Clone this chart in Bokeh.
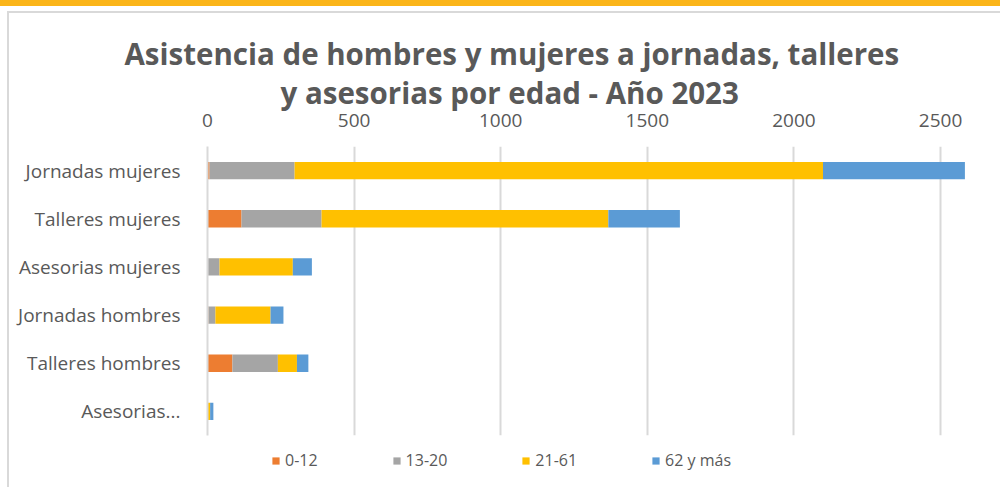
from bokeh.plotting import figure
from bokeh.layouts import column
from bokeh.models import (ColumnDataSource, Range1d, FixedTicker, Title, Legend, LegendItem)
from bokeh.embed import file_html
from bokeh.resources import INLINE

# ---- data ----
categories = ["Jornadas mujeres", "Talleres mujeres", "Asesorias mujeres",
              "Jornadas hombres", "Talleres hombres", "Asesorias..."]
age_0_12 = [7, 116, 2, 3, 85, 0]
age_13_20 = [290, 273, 39, 24, 155, 0]
age_21_61 = [1802, 978, 250, 188, 65, 9]
age_62_mas = [484, 244, 65, 44, 39, 11]
series_names = ["0-12", "13-20", "21-61", "62 y más"]
series_colors = ["#ED7D31", "#A5A5A5", "#FFC000", "#5B9BD5"]
x_ticks = [0, 500, 1000, 1500, 2000, 2500]
title_lines = ["Asistencia de hombres y mujeres a jornadas, talleres",
               "y asesorias por edad - Año 2023"]

n = len(categories)
ypos = [n - 1 - i for i in range(n)]
source = ColumnDataSource(dict(y=ypos, cat=categories, a=age_0_12, b=age_13_20,
                               c=age_21_61, d=age_62_mas))
stackers = ["a", "b", "c", "d"]

FONT = "Open Sans"
TXT = "#595959"
GRAY_LINE = "linear-gradient(#d9d9d9,#d9d9d9)"

p = figure(width=1000, height=445, output_backend="svg", toolbar_location=None,
           x_range=Range1d(0, 2585), y_range=Range1d(-0.5, n - 0.5),
           x_axis_location="above",
           min_border_left=207, min_border_right=35, min_border_top=146,
           min_border_bottom=10)
p.outline_line_color = None
p.background_fill_color = "white"
p.border_fill_color = None
p.styles = {"background": "linear-gradient(#FBB519,#FBB519) 0 0/100% 6px no-repeat, "
                          + GRAY_LINE + " 7px 11px/100% 2px no-repeat, "
                          + GRAY_LINE + " 7px 11px/2px 100% no-repeat, #ffffff"}

renderers = p.hbar_stack(stackers, y="y", height=0.36,
                         color=series_colors, line_color=None, source=source)

# x axis (top)
xa = p.xaxis[0]
xa.ticker = FixedTicker(ticks=x_ticks)
xa.axis_line_color = None
xa.major_tick_line_color = None
xa.minor_tick_line_color = None
xa.major_label_text_font = FONT
xa.major_label_text_font_size = "19px"
xa.major_label_text_color = TXT
xa.major_label_standoff = 14

# y axis (left)
ya = p.yaxis[0]
ya.ticker = FixedTicker(ticks=ypos)
ya.major_label_overrides = {y: c for y, c in zip(ypos, categories)}
ya.axis_line_color = "#d9d9d9"
ya.axis_line_width = 2
ya.major_tick_line_color = None
ya.minor_tick_line_color = None
ya.major_label_text_font = FONT
ya.major_label_text_font_size = "19px"
ya.major_label_text_color = TXT
ya.major_label_standoff = 21

p.xgrid.grid_line_color = "#d9d9d9"
p.xgrid.grid_line_width = 2
p.ygrid.grid_line_color = None

# title (two lines, added nearest-first)
for line, off in [(title_lines[1], 73), (title_lines[0], -83)]:
    p.add_layout(Title(text=line, align="left", offset=off, standoff=-4,
                       text_font=FONT, text_font_style="bold",
                       text_font_size="29.5px", text_color=TXT), "above")

# legend strip (separate small figure under the chart)
pl = figure(width=1000, height=42, output_backend="svg", toolbar_location=None,
            x_range=Range1d(0, 1), y_range=Range1d(10, 11),
            x_axis_location=None, y_axis_location=None,
            min_border_left=0, min_border_right=0, min_border_top=0, min_border_bottom=0)
pl.outline_line_color = None
pl.grid.visible = False
pl.background_fill_color = None
pl.border_fill_color = None
pl.styles = {"background": GRAY_LINE + " 7px 0/2px 100% no-repeat, #ffffff"}
leg_renderers = pl.hbar_stack(stackers, y="y", height=0.36, color=series_colors,
                              line_color=None, source=source)
for r in leg_renderers:
    r.visible = False
items = [LegendItem(label=nm, renderers=[r]) for nm, r in zip(series_names, leg_renderers)]
legend = Legend(items=items, orientation="horizontal", location=(64, 16),
                glyph_width=9, glyph_height=9, label_standoff=5, spacing=74,
                padding=0, margin=0, border_line_color=None,
                background_fill_alpha=0, label_text_font=FONT,
                label_text_font_size="16px", label_text_color=TXT)
pl.add_layout(legend, "center")

open("out.html", "w").write(file_html(column(p, pl, spacing=0), INLINE))
